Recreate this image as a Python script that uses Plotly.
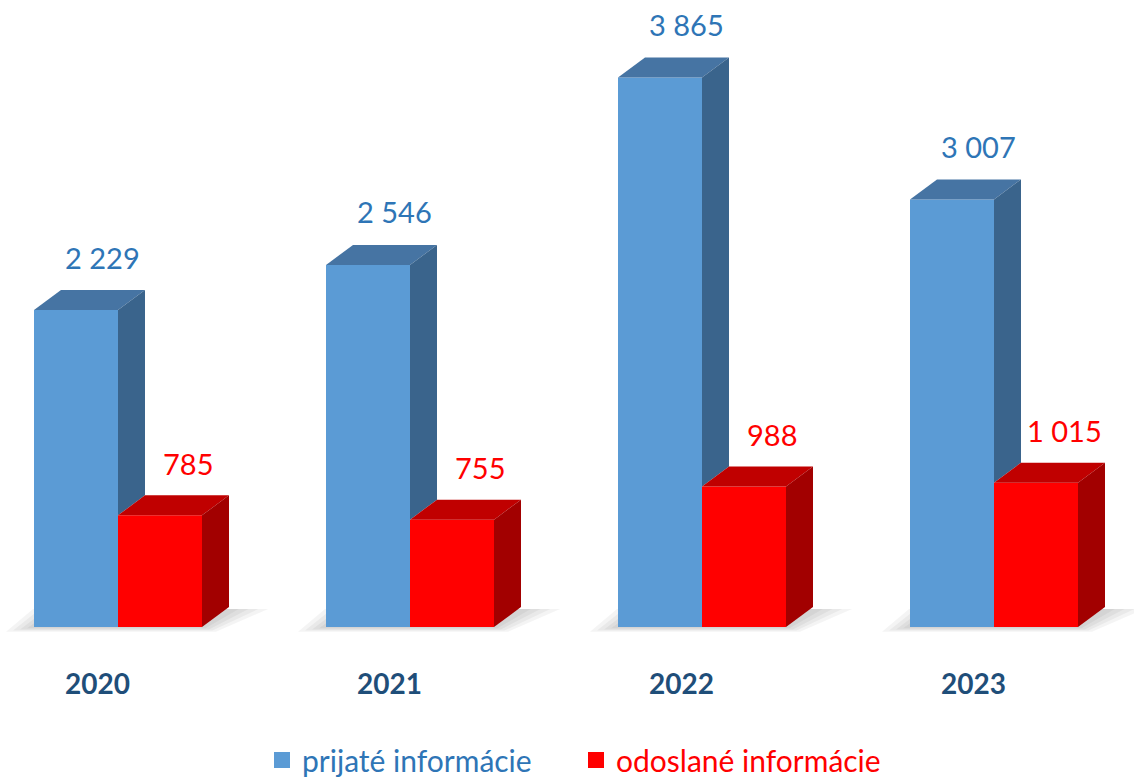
import plotly.graph_objects as go

years = ["2020", "2021", "2022", "2023"]
prijate = [2229, 2546, 3865, 3007]
odoslane = [785, 755, 988, 1015]

# pixel geometry of the plot (margins are zero so 1 unit maps to fixed pixels)
px_per_cat = 292.0
px_per_val = 0.1422
bar_w = 84 / px_per_cat
dx = 27 / px_per_cat          # depth offset, x
dy = 20 / px_per_val          # depth offset, y
floor_px = 627

blue, blue_top, blue_side = "#5B9BD5", "#4674A3", "#3A648C"
red, red_top, red_side = "#FF0000", "#C00000", "#A20000"

x = list(range(len(years)))

def fmt(v):
    return f"{v:,}".replace(",", " ")

fig = go.Figure()
fig.add_trace(go.Bar(x=x, y=prijate, width=bar_w, offset=-bar_w, marker=dict(color=blue, line=dict(width=0)),
                     showlegend=False))
fig.add_trace(go.Bar(x=x, y=odoslane, width=bar_w, offset=0, marker=dict(color=red, line=dict(width=0)),
                     showlegend=False))

def poly(xs, ys, color):
    fig.add_trace(go.Scatter(x=xs + [xs[0]], y=ys + [ys[0]], fill="toself", fillcolor=color, mode="lines",
                             line=dict(width=0, color=color), showlegend=False, hoverinfo="skip"))

shapes = []
for i, (b, r) in enumerate(zip(prijate, odoslane)):
    xl, xm, xr = i - bar_w, i, i + bar_w
    # blue top + visible part of the blue side (above the red bar)
    poly([xl, xl + dx, xm + dx, xm], [b, b + dy, b + dy, b], blue_top)
    poly([xm, xm + dx, xm + dx, xm], [min(r, b), min(r, b) + dy, b + dy, b], blue_side)
    # red top + side
    poly([xm, xm + dx, xr + dx, xr], [r, r + dy, r + dy, r], red_top)
    poly([xr, xr + dx, xr + dx, xr], [0, dy, r + dy, r], red_side)
    # soft floor shadow under each pair
    for k in range(4):
        g = (4 - k) * 7 / px_per_cat
        lo = -(4 - k) * 1.2 / px_per_val
        shapes.append(dict(type="path", xref="x", yref="y", layer="below",
                           path=f"M{xl - g},{lo} L{xr + g / 2},{lo} L{xr + dx + 1.4 * g},{dy * 0.9} "
                                f"L{xl + dx - g},{dy * 0.9} Z",
                           fillcolor="rgba(0,0,0,0.045)", line=dict(width=0)))

annotations = []
for i, (b, r) in enumerate(zip(prijate, odoslane)):
    annotations.append(dict(x=i - bar_w / 2 + 26 / px_per_cat, y=b + dy + 33 / px_per_val, text=fmt(b),
                            showarrow=False, font=dict(size=29, color="#2E75B6")))
    annotations.append(dict(x=i + bar_w / 2 + 28 / px_per_cat, y=r + dy + 32 / px_per_val, text=fmt(r),
                            showarrow=False, font=dict(size=29, color="#FF0000")))
    annotations.append(dict(x=i - 21 / px_per_cat, y=-56 / px_per_val, text=f"<b>{years[i]}</b>",
                            showarrow=False, font=dict(size=28, color="#1F4E79")))

# legend entries (square swatches)
fig.add_trace(go.Scatter(x=[None], y=[None], mode="markers", legend="legend",
                         marker=dict(symbol="square", size=18, color=blue),
                         name="<span style='color:#2E75B6'>prijaté informácie</span>"))
fig.add_trace(go.Scatter(x=[None], y=[None], mode="markers", legend="legend2",
                         marker=dict(symbol="square", size=18, color=red),
                         name="<span style='color:#FF0000'>odoslané informácie</span>"))

leg = dict(orientation="h", yanchor="middle", xanchor="left",
           font=dict(size=30), itemsizing="trace", bgcolor="rgba(0,0,0,0)", borderwidth=0)

fig.update_layout(
    width=1134, height=780,
    margin=dict(l=0, r=0, t=0, b=0, autoexpand=False),
    paper_bgcolor="white", plot_bgcolor="white",
    font=dict(family="Lato, Liberation Sans, sans-serif"),
    barmode="overlay",
    xaxis=dict(range=[-118 / px_per_cat, (1134 - 118) / px_per_cat], visible=False, fixedrange=True),
    yaxis=dict(range=[-(780 - floor_px) / px_per_val, floor_px / px_per_val], visible=False, fixedrange=True),
    showlegend=True,
    legend=dict(leg, x=262 / 1134, y=1 - 760 / 780),
    legend2=dict(leg, x=576 / 1134, y=1 - 760 / 780),
    annotations=annotations,
    shapes=shapes,
)

fig.write_html("out.html", config={"displayModeBar": False},
               post_script="document.body.style.margin='0';document.body.style.overflow='hidden';")
